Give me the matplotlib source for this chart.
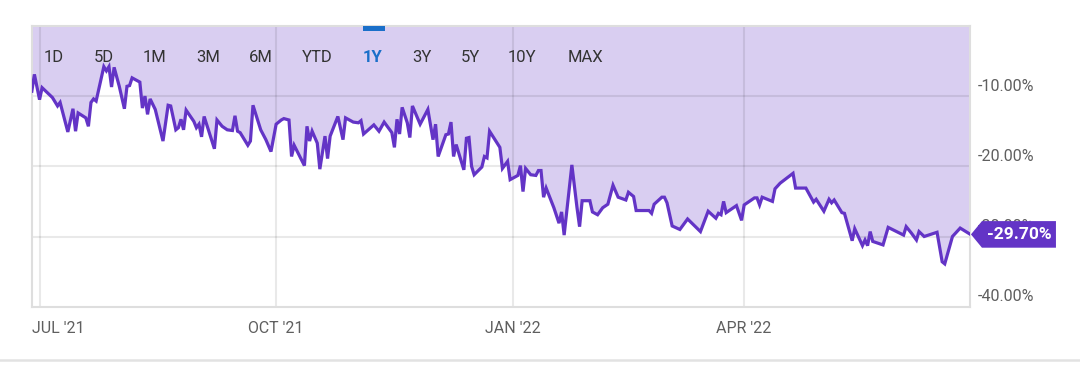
import numpy as np
import pandas as pd
import matplotlib
matplotlib.use("Agg")
import matplotlib.pyplot as plt
from matplotlib.patches import Polygon

plt.rcParams['font.family'] = ['Roboto', 'DejaVu Sans']

# 1Y total return (days counted from 1 Jul 2021)
start = pd.Timestamp('2021-07-01')
days = [-3, -2, 0, 1, 3, 5, 7, 8, 11, 13, 14, 15, 18, 19, 20, 21, 22, 25, 26, 27,
        28, 29, 31, 33, 34, 35, 36, 39, 40, 41, 42, 43, 45, 48, 50, 51, 53, 54, 55, 56,
        57, 60, 61, 62, 63, 64, 68, 69, 71, 73, 75, 76, 77, 78, 81, 82, 83, 86, 88, 90,
        92, 94, 95, 97, 98, 99, 103, 104, 105, 106, 108, 109, 111, 112, 113, 116, 118, 119, 122, 124,
        125, 126, 130, 132, 134, 137, 138, 139, 140, 141, 143, 144, 145, 148, 151, 153, 154, 155, 158, 159,
        160, 161, 162, 165, 166, 167, 168, 169, 172, 173, 174, 175, 179, 180, 182, 183, 186, 187, 188, 189,
        191, 193, 194, 195, 196, 197, 200, 202, 203, 204, 207, 209, 210, 211, 214, 215, 217, 219, 221, 223,
        225, 228, 229, 231, 232, 237, 238, 239, 242, 243, 244, 246, 249, 252, 257, 260, 263, 264, 265, 266,
        267, 271, 273, 274, 278, 279, 280, 281, 285, 286, 288, 293, 294, 298, 301, 302, 305, 307, 308, 309,
        312, 313, 316, 317, 320, 321, 322, 323, 324, 328, 330, 336, 337, 339, 341, 342, 344, 349, 351, 352,
        355, 356, 358, 362]
returns = [-9.3, -6.9, -10.5, -8.8, -9.5, -10.2, -11.4, -10.9, -15.1, -11.8, -15.0, -12.4, -13.1, -14.3, -10.9, -10.4, -10.7, -5.8, -6.4, -5.8,
           -8.7, -5.9, -8.6, -11.8, -8.6, -8.5, -7.4, -8.0, -11.7, -10.0, -12.6, -10.4, -11.9, -16.4, -11.3, -11.4, -14.8, -14.5, -13.3, -14.8,
           -12.0, -13.6, -14.5, -14.0, -15.8, -12.9, -17.5, -13.4, -14.3, -14.8, -14.9, -12.8, -15.0, -15.2, -17.0, -16.4, -11.3, -14.8, -16.2, -17.9,
           -14.0, -13.4, -13.2, -13.4, -18.6, -17.0, -19.9, -14.3, -16.4, -15.0, -16.7, -20.4, -15.7, -18.9, -15.7, -12.9, -16.2, -13.1, -13.7, -13.8,
           -13.5, -15.4, -14.1, -15.0, -13.7, -15.2, -17.3, -13.3, -15.4, -11.6, -13.8, -15.9, -11.4, -14.0, -11.9, -16.2, -14.0, -18.6, -15.5, -15.4,
           -13.7, -18.6, -16.9, -20.5, -16.0, -15.9, -20.0, -21.2, -20.1, -18.6, -18.8, -15.0, -17.3, -20.3, -19.3, -21.9, -21.3, -19.9, -23.6, -20.3,
           -21.2, -21.3, -20.6, -20.6, -24.4, -23.1, -25.9, -28.1, -26.5, -29.8, -19.8, -25.9, -28.6, -24.9, -24.9, -26.5, -26.9, -25.9, -25.4, -22.7,
           -24.4, -24.8, -23.7, -24.3, -26.3, -26.3, -26.7, -25.4, -24.4, -24.4, -25.2, -28.5, -29.0, -27.5, -29.3, -26.4, -27.4, -26.7, -26.9, -25.0,
           -26.6, -25.6, -27.7, -25.5, -24.5, -24.5, -25.5, -24.4, -25.0, -23.2, -22.4, -21.0, -23.1, -23.1, -25.1, -24.7, -26.4, -24.7, -25.2, -24.8,
           -26.6, -26.7, -30.6, -28.9, -31.3, -30.5, -31.3, -29.3, -30.7, -31.2, -28.7, -29.8, -28.6, -29.5, -30.5, -29.3, -30.0, -29.4, -33.6, -33.9,
           -30.0, -29.6, -28.8, -29.7]

y_ticks = [-10, -20, -30, -40]
x_tick_dates = ['2021-07-01', '2021-10-01', '2022-01-01', '2022-04-01']
x_tick_labels = ["JUL '21", "OCT '21", "JAN '22", "APR '22"]
ranges = ['1D', '5D', '1M', '3M', '6M', 'YTD', '1Y', '3Y', '5Y', '10Y', 'MAX']
selected = '1Y'
last_label = '-29.70%'

line_c = '#6334c6'
fill_c = '#d9cef1'
blue = '#1a6fc9'

dates = start + pd.to_timedelta(days, unit='D')

fig = plt.figure(figsize=(10.8, 3.77), dpi=100)
ax = fig.add_axes([0.0294, 0.1865, 0.8687, 0.7447])

ax.fill_between(dates, returns, 0, color=fill_c, lw=0, zorder=1)
ax.plot(dates, returns, color=line_c, lw=2.3, solid_joinstyle='miter', zorder=3)

ax.set_ylim(-40, 0)
ax.set_xlim(start - pd.Timedelta(days=3.03), start + pd.Timedelta(days=361.8))

for v in y_ticks[:-1]:
    ax.axhline(v, color='black', alpha=0.085, lw=1.5, zorder=2)
for d in x_tick_dates:
    ax.axvline(pd.Timestamp(d), color='black', alpha=0.085, lw=1.5, zorder=2)

ax.set_xticks([])
ax.set_yticks([])
for s in ax.spines.values():
    s.set_color('#dedede')
    s.set_linewidth(1.5)

# right-hand percentage labels, sitting just above each gridline
for v in y_ticks:
    ax.annotate(f'{v:.2f}%', xy=(1.0, v), xycoords=('axes fraction', 'data'),
                xytext=(5.5, 7.2), textcoords='offset points',
                ha='left', va='center', fontsize=11.5, color='#5f5f5f', zorder=1)

# month labels under the axis
for i, (d, lab) in enumerate(zip(x_tick_dates, x_tick_labels)):
    if i == 0:
        ax.annotate(lab, xy=(0.0, 0.0), xycoords='axes fraction', xytext=(0, -15.5),
                    textcoords='offset points', ha='left', va='center',
                    fontsize=11.5, color='#5f5f5f')
    else:
        ax.annotate(lab, xy=(pd.Timestamp(d), -40), xycoords='data', xytext=(0, -15.5),
                    textcoords='offset points', ha='center', va='center',
                    fontsize=11.5, color='#5f5f5f', annotation_clip=False)

# range selector
btn_x = [44, 94, 143, 196, 249, 302, 363, 412, 461, 508, 568]
for lab, px in zip(ranges, btn_x):
    sel = lab == selected
    fig.text(px / 1080, 1 - 57.5 / 377, lab, ha='left', va='center', fontsize=12,
             color=blue if sel else '#333333', fontweight='bold' if sel else 'normal')
fig.patches.append(plt.Rectangle((363 / 1080, 1 - 31 / 377), 22 / 1080, 5 / 377,
                                 transform=fig.transFigure, color=blue, lw=0))

# last value badge
yv = returns[-1]
tip_y = ax.transData.transform((ax.get_xlim()[1], yv))[1]
tip_x = ax.transAxes.transform((1.0, 0))[0] + 1
h = 13.3
badge = Polygon([(tip_x, tip_y), (tip_x + 11, tip_y + h), (tip_x + 85, tip_y + h),
                 (tip_x + 85, tip_y - h), (tip_x + 11, tip_y - h)],
                closed=True, transform=None, color=line_c, lw=0, zorder=5)
fig.patches.append(badge)
fig.text((tip_x + 16) / 1080, tip_y / 377, last_label, ha='left', va='center',
         fontsize=12.5, fontweight='bold', color='white', zorder=6)

# separator line at the bottom
fig.add_artist(plt.Line2D([0, 1], [1 - 360 / 377] * 2, color='#e2e2e2', lw=1.8))

fig.savefig('out.png', dpi=100)
